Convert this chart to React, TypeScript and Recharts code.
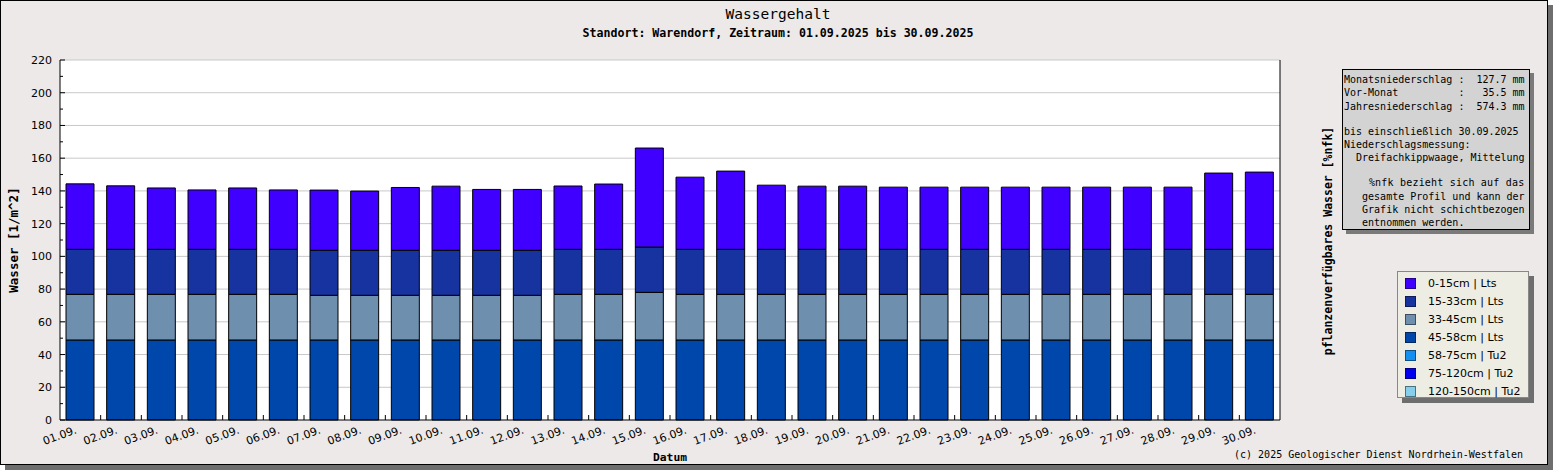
import { BarChart, Bar, XAxis, YAxis, CartesianGrid } from "recharts";

const days = [
  "01.09.", "02.09.", "03.09.", "04.09.", "05.09.", "06.09.", "07.09.", "08.09.", "09.09.", "10.09.",
  "11.09.", "12.09.", "13.09.", "14.09.", "15.09.", "16.09.", "17.09.", "18.09.", "19.09.", "20.09.",
  "21.09.", "22.09.", "23.09.", "24.09.", "25.09.", "26.09.", "27.09.", "28.09.", "29.09.", "30.09.",
];

// water per layer [1/m^2]
const layer0_15 = [
  40.0, 38.8, 37.5, 36.3, 37.5, 36.3, 36.8, 36.2, 38.4, 39.2,
  37.2, 37.2, 38.7, 39.9, 60.5, 44.1, 47.8, 39.2, 38.6, 38.6,
  38.0, 38.0, 38.0, 38.0, 38.0, 38.0, 38.0, 38.0, 46.6, 47.2,
];
const layer15_33 = [
  27.5, 27.5, 27.5, 27.5, 27.5, 27.5, 27.5, 27.5, 27.5, 27.5,
  27.5, 27.5, 27.5, 27.5, 27.7, 27.5, 27.5, 27.5, 27.5, 27.5,
  27.5, 27.5, 27.5, 27.5, 27.5, 27.5, 27.5, 27.5, 27.5, 27.5,
];
const layer33_45 = [
  27.9, 27.9, 27.9, 27.9, 27.9, 27.9, 27.3, 27.3, 27.3, 27.3,
  27.3, 27.3, 27.9, 27.9, 29.1, 27.9, 27.9, 27.9, 27.9, 27.9,
  27.9, 27.9, 27.9, 27.9, 27.9, 27.9, 27.9, 27.9, 27.9, 27.9,
];
const layer45_58 = [
  48.9, 48.9, 48.9, 48.9, 48.9, 48.9, 48.9, 48.9, 48.9, 48.9,
  48.9, 48.9, 48.9, 48.9, 48.9, 48.9, 48.9, 48.9, 48.9, 48.9,
  48.9, 48.9, 48.9, 48.9, 48.9, 48.9, 48.9, 48.9, 48.9, 48.9,
];

const yTicks = [0, 10, 20, 30, 40, 50, 60, 70, 80, 90, 100, 110, 120, 130, 140, 150, 160, 170, 180, 190, 200, 210, 220];
const gridValues = [20, 40, 60, 80, 100, 120, 140, 160, 180, 200, 220];

const legendItems = [
  { label: "0-15cm | Lts", color: "#3F00FF" },
  { label: "15-33cm | Lts", color: "#1733A0" },
  { label: "33-45cm | Lts", color: "#6F8FAF" },
  { label: "45-58cm | Lts", color: "#0047AB" },
  { label: "58-75cm | Tu2", color: "#1590F0" },
  { label: "75-120cm | Tu2", color: "#0000F0" },
  { label: "120-150cm | Tu2", color: "#87CEEB" },
];

const infoLines = [
  "Monatsniederschlag :  127.7 mm",
  "Vor-Monat          :   35.5 mm",
  "Jahresniederschlag :  574.3 mm",
  "",
  "bis einschließlich 30.09.2025",
  "Niederschlagsmessung:",
  "  Dreifachkippwaage, Mittelung",
  "",
  "    %nfk bezieht sich auf das",
  "   gesamte Profil und kann der",
  "   Grafik nicht schichtbezogen",
  "   entnommen werden.",
];

const data = days.map((d, i) => ({
  day: d,
  l0: layer0_15[i],
  l15: layer15_33[i],
  l33: layer33_45[i],
  l45: layer45_58[i],
}));

const MONO = "'DejaVu Sans Mono', monospace";
const SANS = "'DejaVu Sans', sans-serif";

function LeftTick(props: any) {
  const { x, y, payload } = props;
  const major = payload.value % 20 === 0;
  return (
    <g>
      <line x1={x + 8} x2={x + 8 + (major ? 5 : 3)} y1={y} y2={y} stroke="#000" />
      {major && (
        <text x={x} y={y} dy="0.36em" textAnchor="end" fontSize={11} fontFamily={SANS} fill="#000">
          {payload.value}
        </text>
      )}
    </g>
  );
}

function RightTick(props: any) {
  const { x, y, payload } = props;
  const major = payload.value % 20 === 0;
  return (
    <g>
      <line x1={x - 8 - (major ? 5 : 3)} x2={x - 8} y1={y} y2={y} stroke="#000" />
      {major && (
        <text x={x} y={y} dy="0.36em" textAnchor="start" fontSize={11} fontFamily={SANS} fill="#000">
          {payload.value}
        </text>
      )}
    </g>
  );
}

function DayTick(props: any) {
  const { x, y, payload, index } = props;
  const left = x - (payload.offset ?? 0);
  return (
    <g>
      {index > 0 && <line x1={left} x2={left} y1={y} y2={y - 5} stroke="#000" />}
      <text
        transform={`translate(${x - 3},${y + 13}) rotate(-20)`}
        textAnchor="end"
        fontSize={11}
        fontFamily={SANS}
        fill="#000"
      >
        {payload.value}
      </text>
    </g>
  );
}

export default function App() {
  return (
    <div style={{ position: "absolute", left: 0, top: 0, width: 1555, height: 470, background: "#fff" }}>
      <div
        style={{
          position: "absolute",
          left: 0,
          top: 0,
          width: 1548,
          height: 465,
          boxSizing: "border-box",
          border: "1px solid #000",
          background: "#ECE9E8",
          boxShadow: "5px 5px 0 #6e6e6e",
        }}
      />

      <div style={{ position: "absolute", left: 0, top: 0 }}>
        <BarChart
          width={1548}
          height={465}
          data={data}
          margin={{ top: 60, right: 228, bottom: 15, left: 0 }}
          barSize={28}
        >
          <CartesianGrid
            yAxisId="left"
            vertical={false}
            horizontalValues={gridValues}
            stroke="#c8c8c8"
            fill="#ffffff"
          />
          <XAxis
            dataKey="day"
            height={30}
            interval={0}
            tickLine={false}
            tickSize={0}
            tickMargin={0}
            axisLine={{ stroke: "#000" }}
            tick={<DayTick />}
          />
          <YAxis
            yAxisId="left"
            width={60}
            domain={[0, 220]}
            ticks={yTicks}
            interval={0}
            tickLine={false}
            tickSize={0}
            tickMargin={8}
            axisLine={{ stroke: "#000" }}
            tick={<LeftTick />}
          />
          <YAxis
            yAxisId="right"
            orientation="right"
            width={40}
            domain={[0, 220]}
            ticks={yTicks}
            interval={0}
            tickLine={false}
            tickSize={0}
            tickMargin={8}
            axisLine={{ stroke: "#000" }}
            tick={<RightTick />}
          />
          <Bar yAxisId="left" dataKey="l45" stackId="w" fill="#0047AB" stroke="#000" strokeWidth={1} isAnimationActive={false} />
          <Bar yAxisId="left" dataKey="l33" stackId="w" fill="#6F8FAF" stroke="#000" strokeWidth={1} isAnimationActive={false} />
          <Bar yAxisId="left" dataKey="l15" stackId="w" fill="#1733A0" stroke="#000" strokeWidth={1} isAnimationActive={false} />
          <Bar yAxisId="left" dataKey="l0" stackId="w" fill="#3F00FF" stroke="#000" strokeWidth={1} isAnimationActive={false} />
        </BarChart>
      </div>

      {/* titles */}
      <div
        style={{
          position: "absolute", left: 478, top: 6, width: 600, lineHeight: "16px",
          textAlign: "center", fontFamily: MONO, fontSize: 14.5, color: "#000",
        }}
      >
        Wassergehalt
      </div>
      <div
        style={{
          position: "absolute", left: 378, top: 26, width: 800, lineHeight: "14px",
          textAlign: "center", fontFamily: MONO, fontSize: 11.6, fontWeight: "bold", color: "#000",
        }}
      >
        Standort: Warendorf, Zeitraum: 01.09.2025 bis 30.09.2025
      </div>

      {/* axis titles */}
      <div
        style={{
          position: "absolute", left: 14 - 100, top: 240 - 8, width: 200, lineHeight: "16px",
          textAlign: "center", transform: "rotate(-90deg)", fontFamily: MONO, fontSize: 12.5,
          fontWeight: "bold", color: "#000",
        }}
      >
        Wasser [1/m^2]
      </div>
      <div
        style={{
          position: "absolute", left: 1328 - 150, top: 241 - 8, width: 300, lineHeight: "16px",
          textAlign: "center", transform: "rotate(-90deg)", fontFamily: MONO, fontSize: 11.5,
          fontWeight: "bold", color: "#000",
        }}
      >
        pflanzenverfügbares Wasser [%nfk]
      </div>
      <div
        style={{
          position: "absolute", left: 570, top: 451, width: 200, lineHeight: "14px",
          textAlign: "center", fontFamily: MONO, fontSize: 11.3, fontWeight: "bold", color: "#000",
        }}
      >
        Datum
      </div>
      <div
        style={{
          position: "absolute", left: 1123, top: 448, width: 400, lineHeight: "14px",
          textAlign: "right", fontFamily: MONO, fontSize: 10, color: "#000", whiteSpace: "pre",
        }}
      >
        (c) 2025 Geologischer Dienst Nordrhein-Westfalen
      </div>

      {/* info box */}
      <div
        style={{
          position: "absolute", left: 1342, top: 69, width: 188, height: 161, boxSizing: "border-box",
          border: "1px solid #000", background: "#D3D3D3", boxShadow: "4px 4px 0 #7a7a7a",
          padding: "3px 0 0 1px", fontFamily: MONO, fontSize: 10, color: "#000",
        }}
      >
        {infoLines.map((line, i) => (
          <div
            key={i}
            style={{
              height: line === "" ? 11.8 : 13.3,
              lineHeight: "13.3px",
              whiteSpace: "pre",
              letterSpacing: line.startsWith("    %") ? 0.2 : 0,
            }}
          >
            {line}
          </div>
        ))}
      </div>

      {/* legend */}
      <div
        style={{
          position: "absolute", left: 1397, top: 271, width: 132, height: 127, boxSizing: "border-box",
          border: "1px solid #888", background: "#EDEDE3", boxShadow: "5px 5px 0 #6e6e6e",
          paddingTop: 2,
        }}
      >
        {legendItems.map((it) => (
          <div key={it.label} style={{ height: 18, display: "flex", alignItems: "center" }}>
            <div
              style={{
                marginLeft: 7, width: 11, height: 11, boxSizing: "border-box",
                background: it.color, border: "1px solid rgba(0,0,0,0.45)",
              }}
            />
            <div style={{ marginLeft: 12, fontFamily: SANS, fontSize: 11, color: "#000", whiteSpace: "pre" }}>
              {it.label}
            </div>
          </div>
        ))}
      </div>
    </div>
  );
}
